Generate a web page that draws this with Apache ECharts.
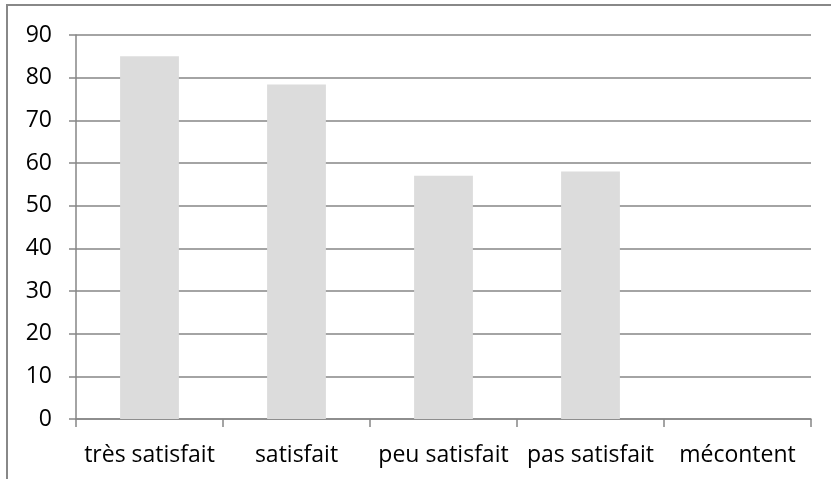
<!DOCTYPE html>
<html>
<head>
<meta charset="utf-8">
<script src="https://cdn.jsdelivr.net/npm/echarts@6/dist/echarts.min.js"></script>
<style>
  html, body { margin: 0; padding: 0; background: #fff; }
  #chart { width: 831px; height: 479px; }
</style>
</head>
<body>
<div id="chart"></div>
<script>
  // niveaux de satisfaction
  var categories = ['très satisfait', 'satisfait', 'peu satisfait', 'pas satisfait', 'mécontent'];
  var values = [85, 78.4, 57, 58, 0];
  var yTicks = [0, 90, 10]; // min, max, pas

  var myChart = echarts.init(document.getElementById('chart'));
  var font = 'Open Sans';
  var option = {
    animation: false,
    graphic: [{
      type: 'rect',
      shape: { x: 7, y: 5, width: 900, height: 600 },
      style: { fill: 'none', stroke: '#888', lineWidth: 2 },
      silent: true
    }],
    grid: { left: 76, right: 20, top: 35, bottom: 60 },
    xAxis: {
      type: 'category',
      data: categories,
      boundaryGap: true,
      axisLine: { lineStyle: { color: '#868686', width: 1.5 } },
      axisTick: { show: true, length: 8, alignWithLabel: false, lineStyle: { color: '#868686', width: 1.5 } },
      axisLabel: { color: '#000', fontFamily: font, fontSize: 23, margin: 25, interval: 0 }
    },
    yAxis: {
      type: 'value',
      min: yTicks[0],
      max: yTicks[1],
      interval: yTicks[2],
      axisLine: { show: true, lineStyle: { color: '#868686', width: 1.5 } },
      axisTick: { show: true, length: 7, lineStyle: { color: '#868686', width: 1.5 } },
      axisLabel: { color: '#000', fontFamily: font, fontSize: 23, margin: 24 },
      splitLine: { lineStyle: { color: '#868686', width: 1.5 } }
    },
    series: [{
      type: 'bar',
      data: values,
      barWidth: '40%',
      itemStyle: { color: '#dcdcdc' }
    }]
  };
  myChart.setOption(option);
</script>
</body>
</html>
